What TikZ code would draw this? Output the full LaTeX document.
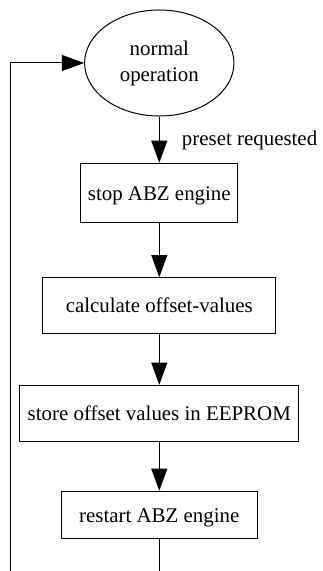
\documentclass[tikz,border=0pt]{standalone}
\usepackage{fontspec}
\setmainfont{Liberation Serif}
\usetikzlibrary{arrows.meta,positioning,shapes.geometric}

\begin{document}
\begin{tikzpicture}[
    node distance=0.9cm,
    font=\fontsize{10.45}{13}\selectfont,
    stepbox/.style={draw,line width=0.5pt,minimum height=0.98cm,text height=0.75em,text depth=0pt,inner sep=0pt},
    state/.style={draw,ellipse,line width=0.5pt,minimum width=2.624cm,minimum height=1.863cm,align=center,inner sep=0pt},
    arr/.style={-{Triangle[length=0.39cm,width=0.28cm]},line width=0.5pt}
  ]
  \useasboundingbox (0,0) rectangle (5.676,-10.034);
  \node[state] (normal) at (2.799,-1.107) {normal\\operation};
  \node[stepbox,below=0.814cm of normal,minimum width=2.759cm,minimum height=1.044cm] (stop) {stop ABZ engine};
  \node[stepbox,below=0.949cm of stop,minimum width=4.087cm,minimum height=0.972cm] (calc) {calculate offset-values};
  \node[stepbox,below=0.901cm of calc,minimum width=4.910cm,minimum height=0.984cm] (store) {store offset values in EEPROM};
  \node[stepbox,below=0.861cm of store,minimum width=3.444cm,minimum height=0.826cm] (restart) {restart ABZ engine};
  % loop back, cut off at the bottom edge
  \coordinate (loopend) at (restart.south |- 0,-10.034);
  \coordinate (loopstart) at (0.188,-10.034);
  \draw[arr] (normal) -- node[pos=0.63,anchor=base west,xshift=0.39cm,inner sep=0pt] (preset) {preset requested} (stop);
  \draw[arr] (stop) -- (calc);
  \draw[arr] (calc) -- (store);
  \draw[arr] (store) -- (restart);
  \draw[line width=0.5pt] (restart) -- (loopend);
  \draw[arr] (loopstart) |- (normal);
\end{tikzpicture}
\end{document}
